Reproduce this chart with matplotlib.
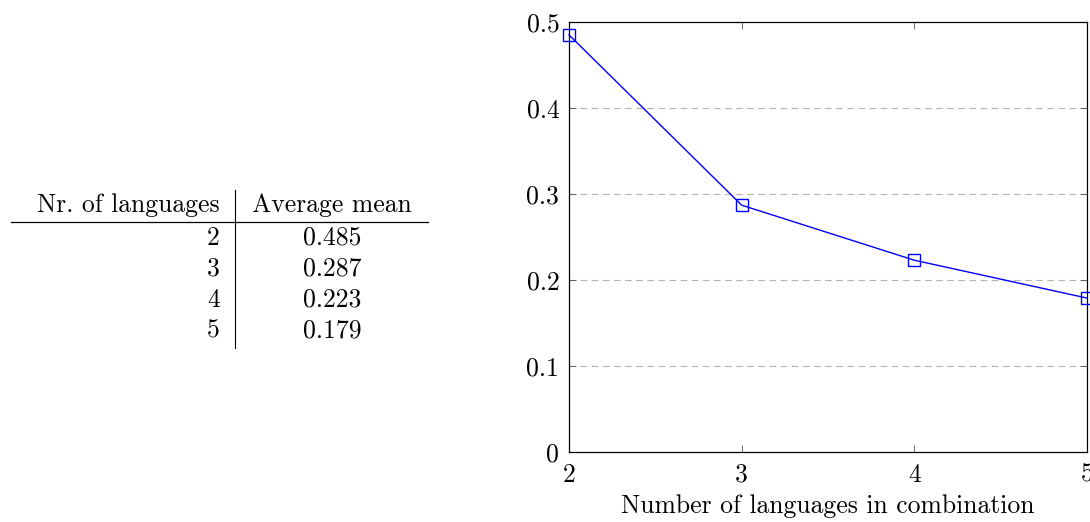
import matplotlib.pyplot as plt
from matplotlib.ticker import FixedLocator

# ---- Data
n_languages = [2, 3, 4, 5]
average_mean = [0.485, 0.287, 0.223, 0.179]
mean_labels = ["0.485", "0.287", "0.223", "0.179"]
y_ticks = [0, 0.1, 0.2, 0.3, 0.4, 0.5]
y_tick_labels = ["0", "0.1", "0.2", "0.3", "0.4", "0.5"]

plt.rcParams["font.family"] = ["cmr10", "DejaVu Serif"]
plt.rcParams["axes.formatter.use_mathtext"] = True
plt.rcParams["mathtext.fontset"] = "cm"

W, H = 1090, 522
fig = plt.figure(figsize=(W / 100, H / 100), dpi=100)

# --- Table (left side), placed in pixel coordinates of the figure
def fx(px):
    return px / W

def fy(py):
    return 1 - py / H

fs = 18.5
fig.text(fx(220), fy(205), "Nr. of languages", ha="right", va="center", fontsize=fs)
fig.text(fx(332), fy(205), "Average mean", ha="center", va="center", fontsize=fs)
fig.add_artist(plt.Line2D([fx(11), fx(428)], [fy(222), fy(222)], color="black", lw=0.9))
fig.add_artist(plt.Line2D([fx(235), fx(235)], [fy(190), fy(348)], color="black", lw=0.8))
row_y = [238, 269, 300, 331]
for n, lab, py in zip(n_languages, mean_labels, row_y):
    fig.text(fx(220), fy(py), str(n), ha="right", va="center", fontsize=fs)
    fig.text(fx(332), fy(py), lab, ha="center", va="center", fontsize=fs)

# --- Plot (right side)
left, right, top, bottom = 569, 1087, 22, 452
ax = fig.add_axes([fx(left), fy(bottom), (right - left) / W, (bottom - top) / H])
ax.plot(n_languages, average_mean, color="blue", lw=1.0, marker="s",
        markersize=8, markerfacecolor="none", markeredgecolor="blue",
        markeredgewidth=1.0, clip_on=False, zorder=3)
ax.set_xlim(2, 5)
ax.set_ylim(0, 0.5)
ax.xaxis.set_major_locator(FixedLocator(n_languages))
ax.set_xticklabels([str(n) for n in n_languages])
ax.set_yticks(y_ticks)
ax.set_yticklabels(y_tick_labels)
for yv in y_ticks[1:-1]:
    ax.axhline(yv, color="#b3b3b3", lw=0.8, ls=(0, (6, 4)), zorder=1)
ax.tick_params(direction="in", length=5, width=0.6, color="#555555",
               top=True, right=True, labelsize=fs)
ax.tick_params(axis="x", pad=8)
ax.tick_params(axis="y", pad=7)
for s in ax.spines.values():
    s.set_linewidth(0.9)
ax.set_xlabel("Number of languages in combination", fontsize=fs, labelpad=5)

fig.savefig("out.png", dpi=100)
